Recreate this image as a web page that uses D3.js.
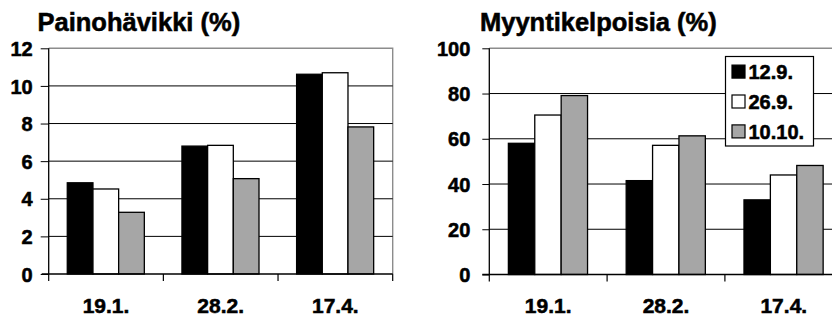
<!DOCTYPE html>
<html>
<head>
<meta charset="utf-8">
<script src="https://cdn.jsdelivr.net/npm/d3@7/dist/d3.min.js"></script>
<style>
  html, body { margin: 0; padding: 0; background: #fff; }
  svg { display: block; }
  text { font-family: "Liberation Sans", Arial, sans-serif; font-weight: bold; fill: #000; stroke: #000; stroke-width: 0.55px; }
</style>
</head>
<body>
<svg id="chart" width="832" height="320"></svg>
<script>
// ---- Data ----
const categories = ["19.1.", "28.2.", "17.4."];
const seriesNames = ["12.9.", "26.9.", "10.10."];
const seriesColors = ["#000000", "#ffffff", "#a6a6a6"];

const weightLossTitle = "Painohävikki (%)";
const weightLoss = [
  [4.85, 6.8, 10.62],   // 12.9.
  [4.52, 6.84, 10.7],   // 26.9.
  [3.28, 5.07, 7.82]    // 10.10.
];
const weightLossTicks = [0, 2, 4, 6, 8, 10, 12];

const marketableTitle = "Myyntikelpoisia (%)";
const marketable = [
  [58.0, 41.5, 33.0],   // 12.9.
  [70.5, 57.1, 44.0],   // 26.9.
  [79.1, 61.3, 48.2]    // 10.10.
];
const marketableTicks = [0, 20, 40, 60, 80, 100];

// ---- Drawing ----
const svg = d3.select("#chart");

function drawPanel(cfg) {
  const g = svg.append("g");
  const x = d3.scaleBand().domain(categories).range([cfg.left, cfg.right]).padding(0);
  const bw = x.bandwidth();
  const xs = d3.scaleBand().domain(seriesNames).range([bw * 0.162, bw * 0.834]).padding(0);
  const y = d3.scaleLinear().domain([0, cfg.max]).range([cfg.bottom, cfg.top]);

  // plot border (top/right), grey
  g.append("path")
    .attr("d", `M${cfg.left},${y(cfg.max)}H${cfg.right}V${cfg.bottom}`)
    .attr("fill", "none").attr("stroke", "#8c8c8c").attr("stroke-width", 1.4);

  // gridlines
  g.selectAll("line.grid")
    .data(cfg.ticks.filter(t => t > 0 && t < cfg.max))
    .enter().append("line")
    .attr("x1", cfg.left).attr("x2", cfg.right)
    .attr("y1", d => y(d)).attr("y2", d => y(d))
    .attr("stroke", "#000").attr("stroke-width", 1);

  // bars
  seriesNames.forEach((s, si) => {
    g.selectAll(null)
      .data(cfg.data[si])
      .enter().append("rect")
      .attr("x", (d, i) => x(categories[i]) + xs(s))
      .attr("y", d => y(d))
      .attr("width", xs.bandwidth())
      .attr("height", d => y(0) - y(d))
      .attr("fill", seriesColors[si])
      .attr("stroke", "#000").attr("stroke-width", 1.3);
  });

  // y axis
  const yAxis = d3.axisLeft(y).tickValues(cfg.ticks).tickSize(cfg.tickSize).tickPadding(cfg.tickPad);
  const ya = g.append("g").attr("transform", `translate(${cfg.left},0)`).call(yAxis);
  ya.select(".domain").attr("stroke", "#000").attr("stroke-width", 1.3)
    .attr("d", `M0,${y(cfg.max)}V${cfg.bottom}`);
  ya.selectAll(".tick line").attr("stroke", "#000").attr("stroke-width", 1);
  ya.selectAll(".tick text").style("font-size", "20px")
    .style("font-family", '"Liberation Sans", Arial, sans-serif').style("font-weight", "bold")
    .attr("dy", "0.36em");

  // x axis line
  g.append("line").attr("x1", cfg.left - 7).attr("x2", cfg.right)
    .attr("y1", y(0)).attr("y2", y(0)).attr("stroke", "#000").attr("stroke-width", 1.3);
  // category boundary ticks
  const bounds = categories.map(c => x(c)).concat([x.range()[1]]);
  g.selectAll("line.ctick").data(bounds).enter().append("line")
    .attr("x1", d => d).attr("x2", d => d)
    .attr("y1", y(0)).attr("y2", y(0) + 7)
    .attr("stroke", "#000").attr("stroke-width", 1.2);
  // category labels
  g.selectAll("text.cat").data(categories).enter().append("text")
    .attr("x", d => x(d) + bw / 2).attr("y", 313)
    .attr("text-anchor", "middle").style("font-size", "21px").text(d => d);

  // title
  g.append("text").attr("x", cfg.titleX).attr("y", 31)
    .style("font-size", "25.5px").text(cfg.title);
  return { x, y };
}

drawPanel({
  left: 48.7, right: 392.7, top: 48.3, bottom: 274, max: 12,
  ticks: weightLossTicks, data: weightLoss, title: weightLossTitle, titleX: 37.5,
  tickSize: 8, tickPad: 8
});

drawPanel({
  left: 489.3, right: 842.7, top: 48.3, bottom: 274.5, max: 100,
  ticks: marketableTicks, data: marketable, title: marketableTitle, titleX: 480,
  tickSize: 7, tickPad: 12
});

// legend
const lg = svg.append("g");
lg.append("rect").attr("x", 725.5).attr("y", 56.5).attr("width", 88).attr("height", 89.5)
  .attr("fill", "#fff").attr("stroke", "#000").attr("stroke-width", 1.2);
const rowY = d3.scalePoint().domain(seriesNames).range([71.6, 131.4]);
seriesNames.forEach((s, i) => {
  lg.append("rect").attr("x", 732).attr("y", rowY(s) - 6.5).attr("width", 13).attr("height", 13)
    .attr("fill", seriesColors[i]).attr("stroke", "#000").attr("stroke-width", 1.2);
  lg.append("text").attr("x", 748.5).attr("y", rowY(s) + 7.3)
    .style("font-size", "20px").text(s);
});
</script>
</body>
</html>
